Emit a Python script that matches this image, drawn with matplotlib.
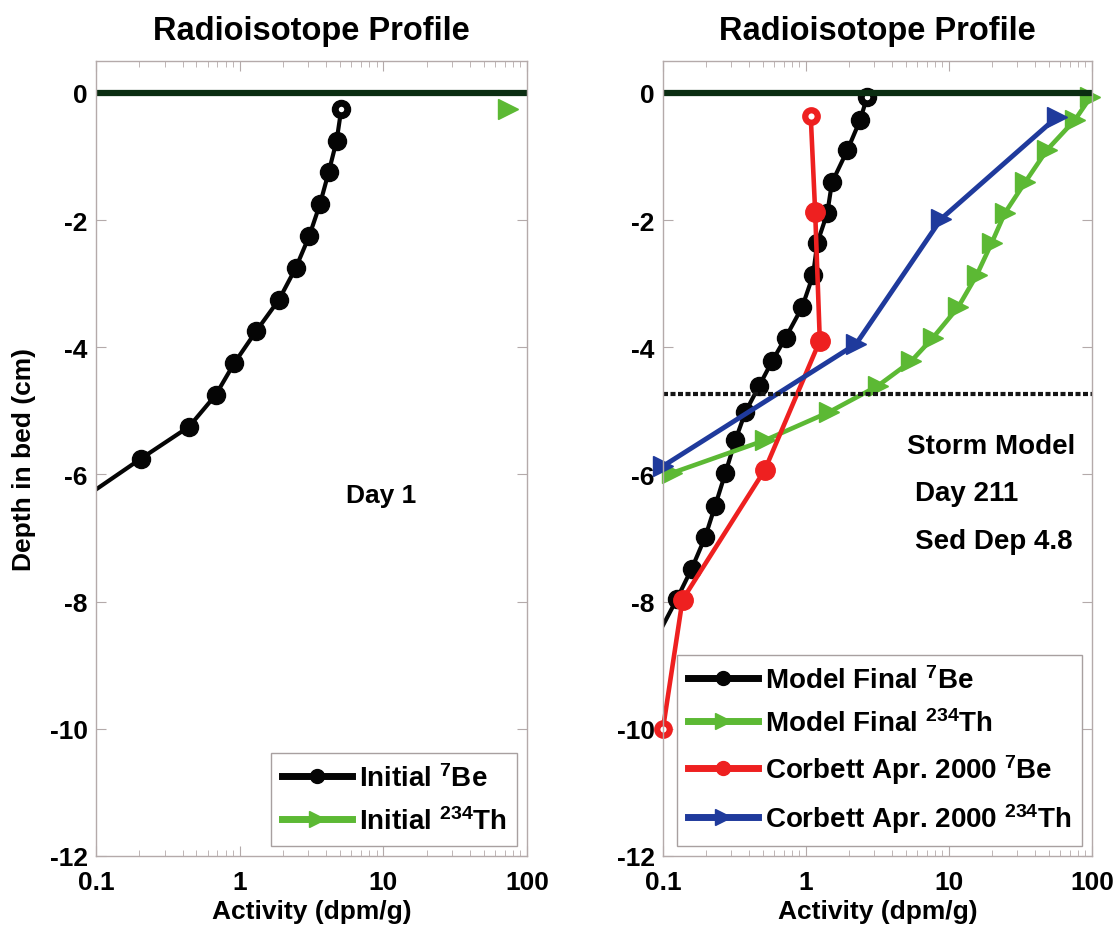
import matplotlib
matplotlib.use('Agg')
import matplotlib.pyplot as plt
import numpy as np
from matplotlib.lines import Line2D
from matplotlib.ticker import FixedLocator, FuncFormatter

plt.rcParams['font.family'] = ['Liberation Sans', 'DejaVu Sans']
plt.rcParams['font.weight'] = 'bold'
plt.rcParams['axes.unicode_minus'] = False
plt.rcParams['mathtext.fontset'] = 'custom'
plt.rcParams['mathtext.rm'] = 'Liberation Sans:bold'
plt.rcParams['mathtext.it'] = 'Liberation Sans:bold'
plt.rcParams['mathtext.bf'] = 'Liberation Sans:bold'
plt.rcParams['mathtext.default'] = 'bf'

#%% datos
# Panel izquierdo: perfil inicial (Day 1)
prof_ini = [-0.25, -0.75, -1.25, -1.75, -2.25, -2.75, -3.25, -3.75, -4.25,
            -4.75, -5.25, -5.75, -6.25]
be_ini = [5.1, 4.73, 4.16, 3.62, 3.05, 2.46, 1.88, 1.30, 0.917, 0.681,
          0.444, 0.206, 0.098]
prof_th_ini = [-0.25]
th_ini = [74.0]

# Panel derecho: modelo final (Day 211)
prof_mod = [-0.07, -0.42, -0.90, -1.41, -1.89, -2.36, -2.87, -3.37, -3.85,
            -4.22, -4.61, -5.02, -5.46, -5.98, -6.49, -6.99, -7.48, -7.96,
            -8.45]
be_mod = [2.67, 2.40, 1.95, 1.52, 1.41, 1.20, 1.12, 0.94, 0.72, 0.58, 0.47,
          0.377, 0.321, 0.273, 0.232, 0.197, 0.159, 0.125, 0.096]
th_mod = [97.5, 76.4, 48.4, 34.0, 24.6, 19.9, 15.6, 11.6, 7.73, 5.44, 3.17,
          1.45, 0.521, 0.115]

# Corbett Apr. 2000
prof_be_corb = [-0.37, -1.88, -3.90, -5.93, -7.97, -10.0]
be_corb = [1.08, 1.16, 1.25, 0.515, 0.137, 0.10]
prof_th_corb = [-0.38, -1.98, -3.95, -5.87]
th_corb = [56.9, 8.84, 2.24, 0.10]

sed_dep = -4.73

#%% estilos
negro = '#050505'
verde = '#5cb934'
rojo = '#ee2020'
azul = '#1f3a9c'
linea_cero = '#0b2e12'
gris = '#b4aaaa'

fig = plt.figure(figsize=(11.18, 9.37), dpi=100)
ax1 = fig.add_axes([0.0859, 0.0854, 0.3855, 0.8484])
ax2 = fig.add_axes([0.5930, 0.0854, 0.3837, 0.8484])


def visibles(v):
    return [x >= 0.1 for x in v]


def formato(ax):
    ax.set_xscale('log')
    ax.set_xlim(0.1, 100)
    ax.set_ylim(-12, 0.5)
    ax.yaxis.set_major_locator(FixedLocator([0, -2, -4, -6, -8, -10, -12]))
    ax.xaxis.set_major_formatter(FuncFormatter(lambda x, p: '%g' % x))
    ax.tick_params(which='both', direction='in', top=True, right=True,
                   color=gris, labelsize=19)
    ax.tick_params(which='major', length=7)
    ax.tick_params(which='minor', length=4)
    ax.tick_params(axis='x', pad=10)
    ax.tick_params(axis='y', pad=6)
    for s in ax.spines.values():
        s.set_color(gris)
        s.set_linewidth(1.0)
    ax.set_title('Radioisotope Profile', fontsize=23.5, fontweight='bold', pad=16)
    ax.set_xlabel('Activity (dpm/g)', fontsize=19, fontweight='bold', labelpad=4)


def leyenda(ax, h, etiquetas):
    ax.legend(h, etiquetas, loc='lower right', fontsize=20, fancybox=False,
              framealpha=1, edgecolor='#a8a0a0', handlelength=2.5,
              handletextpad=0.25, borderaxespad=0.35, labelspacing=0.55,
              borderpad=0.4)


#%% panel izquierdo
ax1.plot(be_ini, prof_ini, '-o', color=negro, lw=3, ms=13,
         markevery=visibles(be_ini))
ax1.plot(be_ini[0], prof_ini[0], 'o', color=negro, mfc='white', ms=8.5, mew=4.5)
ax1.plot(th_ini, prof_th_ini, '->', color=verde, lw=3, ms=15, clip_on=False)
ax1.axhline(0, color=linea_cero, lw=4.5)
ax1.text(5.5, -6.32, 'Day 1', fontsize=19, fontweight='bold', va='center')
formato(ax1)
ax1.set_ylabel('Depth in bed (cm)', fontsize=19, fontweight='bold', labelpad=10)

h1 = [Line2D([], [], color=negro, lw=5, marker='o', ms=10),
      Line2D([], [], color=verde, lw=5, marker='>', ms=11)]
leyenda(ax1, h1, [r'Initial $^{7}$Be', r'Initial $^{234}$Th'])

#%% panel derecho
ax2.plot(be_mod, prof_mod, '-o', color=negro, lw=3, ms=13,
         markevery=visibles(be_mod))
ax2.plot(be_mod[0], prof_mod[0], 'o', color=negro, mfc='white', ms=8.5, mew=4.5)
ax2.plot(th_mod, prof_mod[:len(th_mod)], '->', color=verde, lw=3.3, ms=15,
         clip_on=False)
ax2.plot(be_corb, prof_be_corb, '-o', color=rojo, lw=3.3, ms=14,
         markevery=[1, 2, 3, 4], clip_on=False)
ax2.plot([be_corb[0], be_corb[-1]], [prof_be_corb[0], prof_be_corb[-1]], 'o',
         ls='none', color=rojo, mfc='white', ms=9, mew=4.5, clip_on=False)
ax2.plot(th_corb, prof_th_corb, '->', color=azul, lw=3.5, ms=15, clip_on=False)
ax2.axhline(sed_dep, color='#151515', lw=3, ls=(0, (1.2, 0.6)))
ax2.axhline(0, color=linea_cero, lw=4.5)
ax2.text(5.1, -5.56, 'Storm Model', fontsize=20, fontweight='bold', va='center')
ax2.text(5.75, -6.30, 'Day 211', fontsize=20, fontweight='bold', va='center')
ax2.text(5.75, -7.04, 'Sed Dep 4.8', fontsize=20, fontweight='bold', va='center')
formato(ax2)

h2 = [Line2D([], [], color=negro, lw=5, marker='o', ms=10),
      Line2D([], [], color=verde, lw=5, marker='>', ms=11),
      Line2D([], [], color=rojo, lw=5, marker='o', ms=10),
      Line2D([], [], color=azul, lw=5, marker='>', ms=11)]
leyenda(ax2, h2, [r'Model Final $^{7}$Be', r'Model Final $^{234}$Th',
                  r'Corbett Apr. 2000 $^{7}$Be', r'Corbett Apr. 2000 $^{234}$Th'])

fig.savefig('out.png', dpi=100)
